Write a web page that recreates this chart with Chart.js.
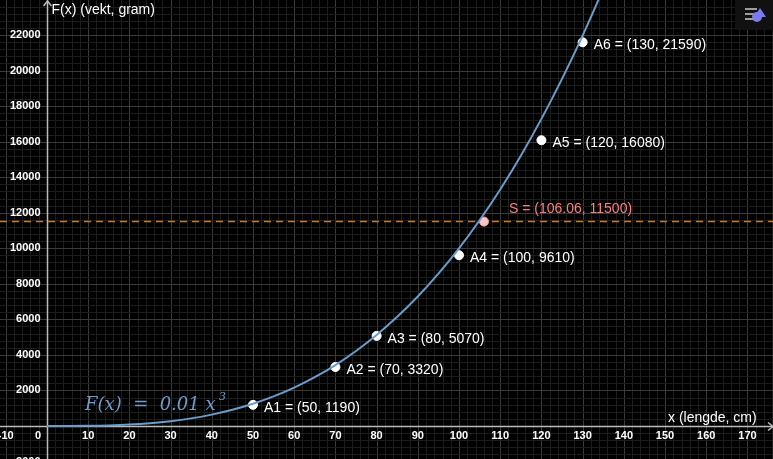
<!DOCTYPE html><html><head><meta charset="utf-8">
<script src="https://cdn.jsdelivr.net/npm/chart.js@4"></script>
<style>html,body{margin:0;padding:0;background:#000}#c{display:block}</style></head><body>
<div style="width:773px;height:459px"><canvas id="c"></canvas></div>
<script>
const curveX=[0,5,10,15,20,25,30,35,40,45,50,55,60,65,70,75,80,85,90,95,100,105,110,115,120,125,130,135,140];
const curveY=[0,1.25,10,33.75,80,156.25,270,428.75,640,911.25,1250,1663.75,2160,2746.25,3430,4218.75,5120,6141.25,7290,8573.75,10000,11576.25,13310,15208.75,17280,19531.25,21970,24603.75,27440];
const ptLabels=["A1","A2","A3","A4","A5","A6"];
const ptX=[50,70,80,100,120,130];
const ptY=[1190,3320,5070,9610,16080,21590];
const sX=106.06, sY=11500;
const xTicks=[-10,0,10,20,30,40,50,60,70,80,90,100,110,120,130,140,150,160,170];
const yTicks=[-2000,2000,4000,6000,8000,10000,12000,14000,16000,18000,20000,22000];
const FONT='"Liberation Sans", Arial, sans-serif';
const geo={id:'geo',beforeDatasetsDraw(ch){const c=ch.ctx,x=ch.scales.x,y=ch.scales.y,a=ch.chartArea;c.save();
c.fillStyle='#000';c.fillRect(0,0,ch.width,ch.height);
for(let v=-10;v<=180;v+=2){const p=Math.round(x.getPixelForValue(v))+.5;c.strokeStyle=(v%10===0)?'#3a3a3a':'#1c1c1c';c.lineWidth=1;c.beginPath();c.moveTo(p,0);c.lineTo(p,ch.height);c.stroke();}
for(let v=-2000;v<=24000;v+=400){const p=Math.round(y.getPixelForValue(v))+.5;c.strokeStyle=(v%2000===0)?'#3a3a3a':'#1c1c1c';c.beginPath();c.moveTo(0,p);c.lineTo(ch.width,p);c.stroke();}
const x0=Math.round(x.getPixelForValue(0))+.5,y0=Math.round(y.getPixelForValue(0))+.5;
c.strokeStyle='#bbbbbb';c.lineWidth=1.5;c.beginPath();c.moveTo(x0,0);c.lineTo(x0,ch.height);c.moveTo(0,y0);c.lineTo(ch.width,y0);c.stroke();
c.beginPath();c.moveTo(x0-4,6);c.lineTo(x0,1);c.lineTo(x0+4,6);c.moveTo(768,y0-4);c.lineTo(773,y0);c.lineTo(768,y0+4);c.stroke();
c.fillStyle='#fff';c.font='bold 11px '+FONT;c.textAlign='center';c.textBaseline='top';
xTicks.forEach(v=>{let p=x.getPixelForValue(v);if(v===0)p-=9;c.fillText(String(v),p,y0+4);});
c.textAlign='right';c.textBaseline='middle';
yTicks.forEach(v=>c.fillText(String(v),x0-7,y.getPixelForValue(v)));
c.font='14px '+FONT;c.textAlign='left';c.textBaseline='alphabetic';
c.fillText('F(x) (vekt, gram)',x0+4,14);
c.fillText('x (lengde, cm)',668,y0-5);
c.strokeStyle='#c87a2c';c.lineWidth=1.5;c.setLineDash([7,5]);const ys=y.getPixelForValue(sY);c.beginPath();c.moveTo(0,ys);c.lineTo(ch.width,ys);c.stroke();c.setLineDash([]);
c.restore();},
afterDatasetsDraw(ch){const c=ch.ctx,x=ch.scales.x,y=ch.scales.y;c.save();c.font='14px '+FONT;c.textBaseline='middle';c.textAlign='left';c.fillStyle='#fff';
ptX.forEach((v,i)=>c.fillText(ptLabels[i]+' = ('+v+', '+ptY[i]+')',x.getPixelForValue(v)+11,y.getPixelForValue(ptY[i])+3));
c.fillStyle='#ff7f7f';c.fillText('S = ('+sX+', '+sY+')',x.getPixelForValue(sX)+25,y.getPixelForValue(sY)-12);
c.fillStyle='#6e9ccb';c.font='italic 18px "DejaVu Serif", serif';c.fillText('F(x)  =  0.01 x',85,405);c.font='italic 11px "DejaVu Serif", serif';c.fillText('3',219,397);
c.fillStyle='#111';c.fillRect(735,0,38,30);c.strokeStyle='#ccc';c.lineWidth=1.5;c.beginPath();c.moveTo(745,9);c.lineTo(757,9);c.moveTo(745,14);c.lineTo(754,14);c.moveTo(745,19);c.lineTo(754,19);c.stroke();
c.fillStyle='#7b7bf0';c.beginPath();c.arc(757,17,5,0,7);c.fill();c.beginPath();c.moveTo(760,8);c.lineTo(766,17);c.lineTo(754,17);c.fill();
c.restore();}};
new Chart(document.getElementById('c'),{type:'scatter',
data:{datasets:[
{data:curveX.map((v,i)=>({x:v,y:curveY[i]})),showLine:true,borderColor:'#6a9ccc',borderWidth:2,pointRadius:0,cubicInterpolationMode:'monotone'},
{data:ptX.map((v,i)=>({x:v,y:ptY[i]})),pointRadius:4.5,backgroundColor:'#fff',borderColor:'#fff'},
{data:[{x:sX,y:sY}],pointRadius:4.5,backgroundColor:'#ffc8c8',borderColor:'#ff9a9a',borderWidth:1}
]},
options:{responsive:true,maintainAspectRatio:false,animation:false,layout:{padding:0,autoPadding:false},
plugins:{legend:{display:false},tooltip:{enabled:false}},
scales:{x:{type:'linear',min:-11.4,max:176.2,display:false},y:{type:'linear',min:-1857,max:23970,display:false}}},
plugins:[geo]});
</script></body></html>
